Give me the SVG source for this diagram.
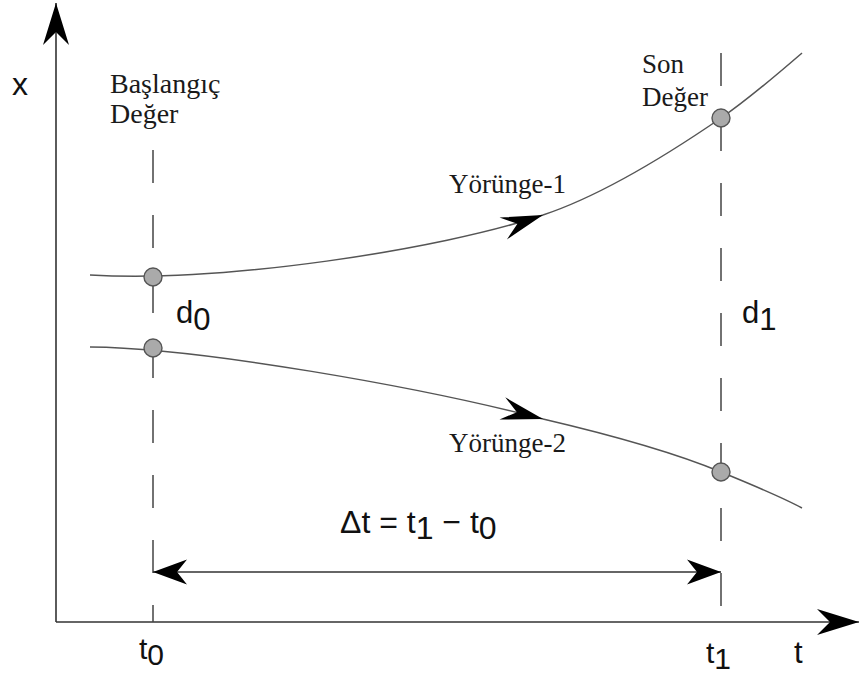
<svg xmlns="http://www.w3.org/2000/svg" width="860" height="675" viewBox="0 0 860 675">
  <style>
    .axis { stroke: #333; stroke-width: 1.6; fill: none; }
    .curve { stroke: #555; stroke-width: 1.5; fill: none; }
    .dash { stroke: #444; stroke-width: 1.5; fill: none; stroke-dasharray: 33 32; }
    .dim { stroke: #333; stroke-width: 1.5; fill: none; }
    .pt { fill: #aaaaaa; stroke: #555; stroke-width: 1.4; }
    .sans { font-family: "Liberation Sans", Arial, sans-serif; fill: #111; }
    .serif { font-family: "Liberation Serif", "Times New Roman", serif; fill: #1a1a1a; }
  </style>
  <defs>
    <marker id="ah-axis" markerUnits="userSpaceOnUse" viewBox="-46 -16 48 32" refX="0" refY="0" markerWidth="48" markerHeight="32" orient="auto">
      <path d="M0,0 L-42,-13 L-29,0 L-42,13 Z" fill="#000"/>
    </marker>
    <marker id="ah-curve" markerUnits="userSpaceOnUse" viewBox="-46 -16 48 32" refX="0" refY="0" markerWidth="48" markerHeight="32" orient="auto">
      <path d="M0,0 L-42,-11.5 L-27,0 L-42,11.5 Z" fill="#000"/>
    </marker>
    <marker id="ah-dim" markerUnits="userSpaceOnUse" viewBox="-40 -16 42 32" refX="0" refY="0" markerWidth="42" markerHeight="32" orient="auto-start-reverse">
      <path d="M0,0 L-34,-12.5 L-24,0 L-34,12.5 Z" fill="#000"/>
    </marker>
  </defs>

  <g id="axes">
    <path class="axis" d="M56,622 L56,3" marker-end="url(#ah-axis)"/>
    <path class="axis" d="M56,622 L859,622" marker-end="url(#ah-axis)"/>
    <text class="sans" x="12" y="95" font-size="32">x</text>
    <text class="sans" x="794" y="663" font-size="31">t</text>
  </g>

  <g id="guides">
    <path class="dash" d="M153,150 L153,622"/>
    <path class="dash" d="M721,53 L721,606"/>
  </g>

  <g id="connectors">
    <path id="yorunge-1-a" class="curve" d="M90,275 C220,283 440,250 543,215" marker-end="url(#ah-curve)"/>
    <path id="yorunge-1-b" class="curve" d="M543,215 C600,196 670,153 721,118 C750,98 780,72 802,53"/>
    <path id="yorunge-2-a" class="curve" d="M90,347 C200,348 420,387 543,419" marker-end="url(#ah-curve)"/>
    <path id="yorunge-2-b" class="curve" d="M543,419 C620,437 680,455 721,472 C750,484 780,496 802,508"/>
    <path id="delta-t" class="dim" d="M153,572 L721,572" marker-start="url(#ah-dim)" marker-end="url(#ah-dim)"/>
  </g>

  <g id="start-1"><circle class="pt" cx="153" cy="277" r="9"/></g>
  <g id="start-2"><circle class="pt" cx="153" cy="348" r="9"/></g>
  <g id="end-1"><circle class="pt" cx="721" cy="118" r="9"/></g>
  <g id="end-2"><circle class="pt" cx="721" cy="472" r="9"/></g>

  <g id="labels">
    <text class="serif" x="110" y="93" font-size="28">Başlangıç</text>
    <text class="serif" x="110" y="123" font-size="28">Değer</text>
    <text class="serif" x="642" y="73" font-size="27">Son</text>
    <text class="serif" x="642" y="106" font-size="27">Değer</text>
    <text class="serif" x="449" y="193" font-size="27">Yörünge-1</text>
    <text class="serif" x="449" y="452" font-size="27">Yörünge-2</text>
    <text class="sans" x="176" y="323" font-size="31">d<tspan dy="7">0</tspan></text>
    <text class="sans" x="742" y="323" font-size="31">d<tspan dy="7">1</tspan></text>
    <text class="sans" x="139" y="659" font-size="30">t<tspan dy="6">0</tspan></text>
    <text class="sans" x="706" y="663" font-size="30">t<tspan dy="6">1</tspan></text>
    <text class="sans" x="340" y="533" font-size="32">Δt = t<tspan dy="6">1</tspan><tspan dy="-6"> − t</tspan><tspan dy="6">0</tspan></text>
  </g>
</svg>
